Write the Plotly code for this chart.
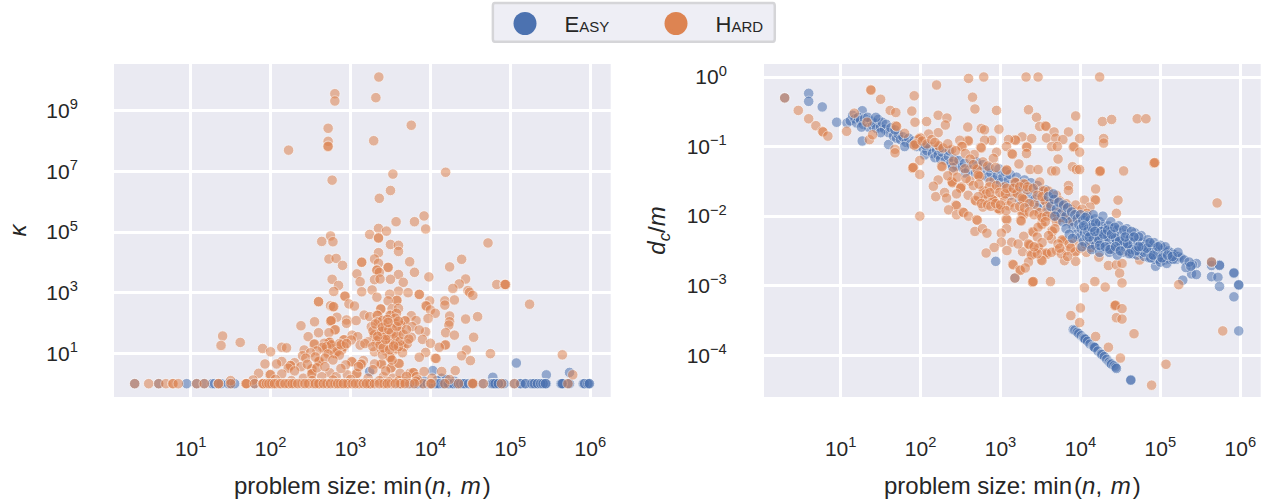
import plotly.graph_objects as go

# log10 values
easy_label = "Easy"
hard_label = "Hard"
x_tick_exp = [1, 2, 3, 4, 5, 6]
kappa_tick_exp = [1, 3, 5, 7, 9]
dc_tick_exp = [-4, -3, -2, -1, 0]

hard_kappa = [
(3.354,10.11),(2.804,9.56),(2.804,9.32),(3.317,9.43),(2.72,8.42),(3.76,8.52),(3.29,8.01),(2.225,7.70),(2.72,7.99),(2.717,7.81),(2.72,7.83),
(4.19,6.97),(3.53,6.91),(2.77,6.71),(3.50,6.37),(3.36,6.11),(3.92,5.53),(3.57,5.34),(3.80,5.34),(3.94,5.10),(3.35,5.12),(3.45,5.03),(3.24,4.92),
(3.35,4.81),(3.35,4.80),(2.75,4.87),(2.64,4.69),(2.78,4.68),(4.72,4.64),(3.50,4.59),(3.60,4.56),(3.60,4.36),(3.35,4.32),(3.30,4.11),(2.73,4.11),
(2.82,4.13),(4.39,4.10),(3.14,4.01),(3.14,4.00),(3.35,3.97),(3.74,4.02),(2.90,3.90),(3.47,3.84),(3.47,3.83),(4.24,3.85),(3.33,3.75),(3.33,3.74),
(3.36,3.67),(3.80,3.67),(3.08,3.62),(3.60,3.60),(3.98,3.52),(2.77,3.44),(3.12,3.36),(3.30,3.43),(3.37,3.45),(3.50,3.44),(3.66,3.34),(4.44,3.45),
(4.36,3.29),(4.83,3.27),(4.93,3.27),(4.93,3.27),(4.94,3.27),(2.85,3.24),(2.79,3.04),(3.14,3.03),(3.27,3.09),(3.60,3.05),(3.72,3.00),(3.49,2.95),
(4.28,3.14),(4.47,3.07),(4.49,3.01),(4.53,2.91),(3.86,2.95),(3.86,2.94),(2.93,2.89),(2.93,2.88),(3.33,2.85),(3.58,2.74),(3.58,2.75),(2.60,2.71),
(2.60,2.70),(3.47,2.73),(3.99,2.73),(4.18,2.73),(4.30,2.76),(4.18,2.59),(2.98,2.63),(3.05,2.56),(2.75,2.57),(2.78,2.53),(2.79,2.54),(3.94,2.57),
(3.95,2.56),(3.375,2.47),(3.38,2.46),(3.52,2.47),(3.60,2.48),(4.00,2.43),(4.06,2.32),(3.17,2.26),(3.24,2.21),(3.33,2.26),(3.34,2.25),(3.49,2.26),
(3.50,2.25),(3.575,2.32),(3.76,2.24),(3.97,2.15),(4.24,2.23),(4.59,2.21),(4.44,2.13),(2.83,2.19),(2.75,2.07),(2.75,2.06),(2.76,2.08),(2.95,2.10),
(2.95,1.99),(3.07,2.08),(2.55,2.04),(2.38,1.91),(4.24,2.04),(4.23,1.93),(3.82,2.08),(3.69,2.08),(3.68,2.07),(3.55,1.99),(3.56,2.00),(3.34,2.04),
(3.35,2.03),(3.26,1.88),(3.77,1.88),(3.43,1.93),(3.63,1.93),(2.80,1.77),(2.81,1.78),(2.73,1.68),(2.60,1.68),(3.02,1.60),(3.94,1.71),(3.86,1.77),
(4.19,1.68),(4.30,1.60),(4.54,1.53),(2.47,1.55),(2.91,1.44),(2.92,1.45),(3.09,1.55),(3.29,1.60),(3.30,1.61),(3.41,1.66),(3.42,1.65),(3.575,1.66),
(3.76,1.53),(3.59,1.44),(3.47,1.53),(3.90,1.46),(3.22,1.38),(3.12,1.27),(3.01,1.44),(2.73,1.36),(2.73,1.35),(2.74,1.37),(2.67,1.33),(2.54,1.30),
(2.55,1.31),(2.91,1.22),(2.92,1.23),(3.63,1.27),(3.64,1.26),(3.47,1.24),(3.48,1.25),(3.32,1.33),(3.67,1.22),(4.00,1.33),(4.18,1.27),(4.19,1.28),
(4.11,1.20),(2.14,1.20),(2.20,1.18),(1.90,1.16),(2.00,1.05),(2.42,1.11),(3.30,1.05),(2.70,1.05),(2.80,1.00),(2.80,1.01),(2.81,0.99),(2.89,1.11),
(3.38,1.16),(3.55,1.11),(4.45,1.11),(2.40,0.92),(4.39,0.92),(4.75,0.99),(5.65,0.95),(3.94,1.03),(3.86,0.87),(4.06,0.84),(4.07,0.83),(3.49,0.87),
(3.49,0.88),(3.50,0.86),(4.50,0.76),(2.60,0.73),(2.60,0.72),(2.61,0.74),(3.16,0.76),(3.01,0.73),(3.02,0.72),(2.14,0.73),(2.075,0.65),(2.30,0.69),
(2.246,0.59),(2.25,0.60),(2.22,0.51),(2.38,0.56),(1.93,0.65),(2.94,0.62),(3.14,0.65),(3.13,0.64),(3.38,0.64),(3.39,0.65),(3.30,0.65),(3.50,0.51),
(3.51,0.52),(3.60,0.67),(3.61,0.66),(2.51,0.48),(2.52,0.49),(1.85,0.34),(1.99,0.29),(2.00,0.30),(2.41,0.18),(2.51,0.32),(2.52,0.33),(2.74,0.36),
(2.64,0.23),(2.82,0.23),(2.96,0.29),(3.075,0.34),(3.08,0.33),(3.41,0.23),(3.74,0.34),(3.78,0.37),(3.79,0.36),(3.825,0.23),(3.92,0.40),(4.14,0.40),
(4.31,0.43),(3.53,0.18),(3.60,0.09),(3.61,0.10),(3.68,0.07),(1.50,0.10),(4.53,0.03),(5.78,0.29),(1.40,1.57),(1.38,1.26),(1.62,1.36),(5.24,2.62),
(3.42,1.42),(3.55,1.52),(3.38,1.78),(3.44,1.86),(3.62,1.72),(3.52,1.82),(3.28,1.74),(3.46,1.34),(3.53,1.38),(3.36,1.48),(3.58,1.15),(3.44,1.08),
(3.40,0.95),(2.84,1.22),(2.78,1.15),(2.68,1.12),(2.86,1.32),(3.18,1.32),(3.40,2.08),(3.56,2.16),(3.46,2.12),(3.71,1.32),(3.65,1.02),(3.52,0.78),
(3.31,1.97),(3.39,1.72),(3.45,1.59),(3.51,1.67),(3.57,1.58),(3.33,1.41),(3.28,1.22),(3.37,1.29),(3.41,1.18),(3.49,1.12),(3.56,1.31),(3.60,1.22),
(3.62,1.40),(3.54,1.24),(3.44,1.46),(3.34,1.56),(3.40,1.86),(3.48,1.78),(3.58,1.88),(3.66,1.62),(3.70,1.78),(3.73,1.47),(3.47,2.02),(3.60,2.06),
(2.70,1.22),(2.76,1.28),(2.83,1.06),(2.88,1.28),(2.95,1.32),(2.65,1.20),(2.72,0.98),(2.86,0.94),(2.58,1.08),(2.50,1.02),(2.44,0.84),(2.56,0.88),
(2.68,0.84),(2.78,0.78),(2.46,0.64),(2.58,0.52),(2.30,0.42),(2.14,0.32),(2.68,0.56),(2.88,0.50),(3.10,0.56),(3.28,0.46),(3.44,0.42),(3.62,0.34),
(3.70,0.24),(3.84,0.12),(3.22,0.18),(3.00,0.14),(2.78,0.12),(2.52,0.10),(2.26,0.10),(2.06,0.14),(1.78,0.12),(3.36,0.10),(3.48,0.06),(3.82,0.08),
(4.02,0.18),(4.24,0.14),
]
hard_kappa_one_x = [
0.30,0.475,0.60,0.69,0.775,0.78,0.845,1.075,1.17,1.345,1.35,1.50,1.69,1.69,1.70,1.80,1.90,1.90,1.91,1.95,2.01,2.02,2.075,2.14,2.22,2.22,2.23,
2.30,2.39,2.47,2.48,2.53,2.60,2.60,2.61,2.70,2.71,2.80,2.81,2.87,2.88,2.95,2.95,2.97,3.10,3.11,3.24,3.24,3.25,3.41,3.42,3.51,3.62,3.63,3.74,
3.91,4.00,4.01,4.18,4.35,4.525,4.53,4.66,4.89,5.05,5.72,
1.98,2.05,2.12,2.18,2.27,2.34,2.43,2.56,2.66,2.75,2.84,2.91,3.02,3.06,3.16,3.20,3.30,3.36,3.46,3.56,3.68,3.80,
]
easy_kappa = [(3.24,0.40),(4.03,0.43),(4.78,0.21),(5.075,0.68),(5.45,0.29),(5.74,0.37),(4.14,0.18),(4.20,0.14),(3.85,0.06),(3.92,0.09),(4.08,0.10),(4.30,0.08)]
easy_kappa_one_x = [
0.30,0.60,0.95,1.075,1.17,1.27,1.30,1.345,1.38,1.47,1.51,1.55,1.80,3.24,3.60,3.72,3.78,3.84,3.90,3.96,4.00,4.03,4.08,4.12,4.18,4.24,4.30,4.35,
4.40,4.44,4.51,4.66,4.76,4.78,4.80,4.83,4.89,4.92,5.05,5.12,5.18,5.25,5.29,5.32,5.36,5.40,5.43,5.45,5.63,5.66,5.72,5.74,5.91,5.95,5.98,
4.02,4.06,4.10,4.16,4.22,4.28,4.33,4.38,4.42,4.48,4.54,4.77,4.79,4.81,4.85,5.13,5.19,5.27,5.30,5.34,5.38,5.41,5.44,5.64,5.65,5.92,5.93,5.97,5.99,
]

hard_dc = [
(2.60,-0.02),(2.79,0.00),(3.32,0.00),(3.47,0.00),(4.24,0.00),(2.20,-0.115),(1.375,-0.18),(1.38,-0.19),(1.92,-0.27),(1.50,-0.32),(2.65,-0.29),(0.30,-0.30),
(0.47,-0.48),(0.60,-0.60),(0.69,-0.70),(0.77,-0.78),(0.78,-0.79),(0.84,-0.85),(1.075,-0.78),(1.17,-0.52),(1.33,-0.65),(1.36,-0.90),(1.40,-0.83),(1.62,-0.48),
(1.69,-0.51),(1.89,-0.49),(1.93,-0.65),(1.69,-0.70),(1.70,-0.71),(2.075,-0.64),(2.22,-0.55),(2.33,-0.59),(2.31,-0.69),(2.22,-0.80),(2.10,-0.82),(1.80,-0.81),
(2.68,-0.46),(2.95,-0.48),(3.35,-0.47),(3.45,-0.58),(3.94,-0.56),(4.275,-0.64),(4.39,-0.61),(4.71,-0.60),(4.82,-0.60),(2.59,-0.72),(2.76,-0.74),(2.80,-0.76),
(2.98,-0.75),(3.49,-0.71),(3.56,-0.70),(3.57,-0.71),(3.67,-0.79),(3.85,-0.79),(3.27,-0.86),(3.39,-0.885),(3.18,-0.90),(3.19,-0.91),(3.10,-0.90),(3.575,-0.875),
(3.69,-0.88),(3.78,-0.90),(3.99,-0.885),(4.29,-0.885),(4.29,-0.95),(2.89,-0.91),(2.80,-0.91),(2.59,-0.91),(2.60,-0.92),(2.49,-0.91),(1.99,-0.87),(2.00,-0.88),
(1.98,-0.89),(1.93,-0.97),(1.94,-0.96),(1.92,-0.98),(2.22,-0.98),(2.23,-0.99),(2.51,-0.995),(2.52,-1.0),(2.75,-1.01),(2.76,-1.02),(3.075,-1.0),(3.325,-1.0),
(3.33,-1.01),(3.64,-1.0),(3.71,-1.0),(3.91,-1.01),(3.92,-1.0),(3.99,-1.08),(1.68,-1.04),(1.68,-1.09),(2.39,-1.04),(2.95,-1.08),(3.14,-1.10),(3.15,-1.11),
(3.325,-1.10),(2.67,-1.115),(2.91,-1.17),(3.72,-1.18),(2.41,-1.21),(1.99,-1.20),(2.26,-1.28),(2.27,-1.29),(3.23,-1.25),(1.90,-1.30),(1.90,-1.31),(1.91,-1.30),
(3.37,-1.33),(3.47,-1.33),(3.075,-1.33),(3.08,-1.34),(3.64,-1.35),(3.69,-1.35),(3.90,-1.29),(3.95,-1.33),(3.99,-1.33),(4.24,-1.35),(4.24,-1.36),(4.25,-1.35),
(4.54,-1.35),(4.92,-1.23),(4.92,-1.24),(4.93,-1.23),(1.99,-1.40),(2.70,-1.32),(2.71,-1.33),(2.555,-1.32),(2.41,-1.35),(2.73,-1.42),(2.74,-1.43),(2.72,-1.41),
(2.39,-1.51),(2.39,-1.50),(2.40,-1.52),(2.22,-1.48),(2.16,-1.57),(2.50,-1.59),(2.51,-1.58),(2.50,-1.60),(2.62,-1.495),(2.87,-1.51),(3.05,-1.58),(3.18,-1.51),
(3.19,-1.52),(3.29,-1.53),(3.30,-1.54),(3.49,-1.51),(3.53,-1.63),(3.54,-1.64),(3.85,-1.56),(3.85,-1.63),(4.19,-1.61),(2.19,-1.72),(2.30,-1.66),(2.325,-1.74),
(2.45,-1.68),(2.595,-1.70),(2.78,-1.63),(2.79,-1.64),(2.93,-1.61),(3.12,-1.65),(3.13,-1.66),(3.20,-1.68),(3.21,-1.67),(2.68,-1.77),(2.69,-1.78),(2.80,-1.77),
(2.81,-1.76),(2.91,-1.77),(2.92,-1.78),(2.90,-1.76),(3.03,-1.70),(3.55,-1.77),(3.56,-1.78),(3.66,-1.75),(3.28,-1.75),(3.29,-1.76),(3.27,-1.74),(4.05,-1.77),
(4.18,-1.76),(4.19,-1.77),(4.47,-1.77),(2.44,-1.84),(2.45,-1.85),(2.35,-1.91),(2.45,-1.98),(2.53,-1.94),(2.54,-1.95),(2.60,-2.0),(2.78,-1.87),(2.98,-1.90),
(2.99,-1.91),(2.97,-1.89),(3.28,-1.97),(3.29,-1.98),(3.27,-1.96),(3.47,-1.94),(3.48,-1.95),(3.64,-2.01),(3.65,-2.0),(3.76,-1.87),(3.77,-1.88),(3.97,-1.93),
(4.12,-1.87),(4.45,-1.96),(5.71,-1.81),(1.99,-2.0),(2.70,-2.05),(2.71,-2.06),(3.07,-2.04),(3.08,-2.05),(3.25,-2.06),(3.26,-2.07),(3.51,-2.11),(3.52,-2.12),
(3.72,-2.04),(3.83,-2.06),(3.51,-2.0),(3.075,-2.18),(3.01,-2.245),(2.68,-2.22),(2.775,-2.18),(2.83,-2.245),(3.40,-2.22),(3.41,-2.23),(3.29,-2.29),(3.64,-2.21),
(3.65,-2.22),(3.64,-2.33),(3.78,-2.35),(3.79,-2.36),(3.77,-2.34),(3.01,-2.375),(3.14,-2.375),(2.92,-2.45),(3.08,-2.495),(2.82,-2.53),(3.275,-2.51),(3.36,-2.41),
(3.37,-2.42),(3.35,-2.40),(3.47,-2.45),(3.48,-2.46),(3.43,-2.52),(3.575,-2.54),(3.58,-2.55),(3.57,-2.53),(3.70,-2.49),(3.825,-2.495),(3.93,-2.52),(3.94,-2.51),
(4.075,-2.52),(3.93,-2.36),(4.18,-2.35),(4.14,-2.45),(4.39,-2.46),(4.40,-2.47),(4.58,-2.505),(3.51,-2.63),(3.52,-2.64),(3.38,-2.55),(3.39,-2.56),(3.35,-2.66),
(3.80,-2.64),(3.94,-2.65),(4.23,-2.59),(4.74,-2.63),(3.15,-2.69),(3.16,-2.70),(3.24,-2.77),(3.25,-2.78),(3.31,-2.745),(3.18,-2.89),(3.40,-2.94),(3.40,-2.95),
(3.41,-2.94),(3.625,-2.94),(4.35,-2.71),(4.45,-2.70),(4.52,-2.68),(4.49,-2.82),(4.18,-2.94),(4.52,-2.96),(4.31,-3.02),(4.05,-3.03),(5.23,-2.985),(5.64,-2.66),
(4.00,-3.32),(4.43,-3.28),(4.43,-3.29),(4.44,-3.28),(4.52,-3.33),(3.88,-3.43),(3.99,-3.53),(4.45,-3.46),(4.52,-3.48),(4.19,-3.73),(4.67,-3.69),(5.78,-3.65),
(4.35,-3.885),(4.50,-4.04),(5.07,-4.13),(4.89,-4.43),(3.05,-1.78),(3.10,-1.85),(3.42,-1.83),(3.58,-1.90),(3.33,-1.62),(3.36,-1.82),(2.86,-1.58),(3.68,-1.95),
(2.02,-0.92),(2.08,-0.96),(2.14,-0.90),(2.18,-0.94),(2.28,-1.02),(2.34,-0.96),(2.44,-1.06),(2.56,-1.10),(2.62,-1.18),(2.66,-1.26),(2.78,-1.22),(2.84,-1.28),
(2.94,-1.30),(2.34,-1.42),(2.46,-1.44),(2.57,-1.46),(2.66,-1.56),(2.73,-1.54),(2.82,-1.68),(2.87,-1.66),(2.95,-1.56),(2.99,-1.66),(3.06,-1.68),(3.08,-1.60),
(3.16,-1.60),(3.24,-1.58),(3.34,-1.58),(3.41,-1.60),(3.46,-1.70),(3.52,-1.72),(3.60,-1.64),(3.62,-1.82),(3.70,-1.70),(3.74,-1.78),(3.82,-1.82),(3.88,-1.90),
(3.94,-1.84),(4.02,-1.90),(4.08,-1.96),(2.72,-1.72),(2.76,-1.82),(2.84,-1.84),(2.88,-1.86),(2.94,-1.82),(3.00,-1.84),(3.07,-1.92),(3.14,-1.80),(3.18,-1.88),
(3.24,-1.86),(3.30,-1.88),(3.36,-1.94),(3.42,-1.98),(3.52,-2.02),(3.58,-2.00),(3.70,-2.08),(3.76,-2.02),(3.82,-1.98),(3.88,-2.08),(3.96,-2.02),
(3.47,-2.16),(3.56,-2.08),(3.68,-2.18),(3.60,-2.28),(3.46,-2.30),(3.52,-2.38),(3.72,-2.40),(3.86,-2.40),(3.88,-2.46),(3.46,-2.54),(3.42,-2.44),(3.64,-2.52),
(3.76,-2.54),(3.84,-2.58),(3.74,-2.46),(4.00,-2.46),(4.06,-2.40),(3.22,-2.40),
]
easy_dc = [
(0.30,-0.30),(0.60,-0.235),(0.60,-0.35),(0.77,-0.43),(0.95,-0.65),(1.27,-0.485),(1.27,-0.92),(1.60,-0.97),(2.94,-2.65),(4.94,-2.72),(5.28,-2.92),(5.64,-2.71),
(5.64,-2.87),(5.72,-2.88),(5.74,-2.70),(5.74,-2.71),(5.74,-3.01),(5.92,-2.81),(5.92,-2.82),(5.98,-2.985),(5.98,-2.99),(5.92,-3.16),(5.98,-3.65),(5.39,-2.83),
(5.45,-2.84),(5.45,-2.68),(5.40,-2.70),(3.18,-2.89),(5.64,-2.66),
(1.08,-0.66),(1.12,-0.63),(1.15,-0.55),(1.18,-0.60),(1.2,-0.66),(1.22,-0.58),(1.25,-0.62),(1.28,-0.68),(1.3,-0.60),(1.33,-0.66),(1.35,-0.72),(1.38,-0.63),
(1.4,-0.70),(1.42,-0.66),(1.45,-0.74),(1.47,-0.61),(1.5,-0.72),(1.52,-0.65),(1.55,-0.75),(1.57,-0.68),(1.6,-0.80),(1.63,-0.73),(1.66,-0.85),(1.7,-0.88),
(1.72,-0.82),(1.75,-0.90),(1.78,-0.86),(1.82,-0.94),(1.85,-0.88),(1.88,-0.96),(1.92,-0.92),(1.95,-1.0),(2.0,-0.95),(2.03,-1.02),(2.05,-1.12),(2.08,-1.06),
(2.12,-1.0),(2.15,-1.1),(2.18,-1.16),(2.2,-1.05),(2.22,-1.12),(2.25,-1.18),(2.27,-1.08),(2.31,-1.2),(2.35,-1.14),(2.38,-1.24),(2.42,-1.18),(2.45,-1.28),
(2.48,-1.2),(2.52,-1.3),(2.55,-1.24),(2.6,-1.34),(2.64,-1.26),(2.68,-1.38),(2.72,-1.3),(2.76,-1.42),(2.8,-1.34),(2.84,-1.44),(2.88,-1.38),(2.92,-1.48),
(3.91,-3.63),(3.93,-3.64),(3.96,-3.67),(3.98,-3.69),(4.01,-3.72),(4.04,-3.75),(4.05,-3.76),(4.06,-3.77),(4.09,-3.8),(4.12,-3.84),(4.16,-3.87),(4.17,-3.88),
(4.18,-3.89),(4.22,-3.94),(4.26,-3.98),(4.27,-3.99),(4.3,-4.02),(4.33,-4.06),(4.36,-4.1),(4.38,-4.12),(4.39,-4.13),(4.42,-4.15),(4.44,-4.17),(4.45,-4.19),
(4.63,-4.35),(4.63,-4.36),
(1.26,-0.72),(1.34,-0.58),(1.44,-0.58),(1.50,-0.80),(1.68,-0.76),(1.80,-1.0),(2.06,-0.98),(2.24,-1.02),(2.36,-1.06),(2.40,-1.30),(2.56,-1.38),(2.70,-1.22),
(2.78,-1.26),(2.86,-1.30),
(2.96,-1.42),(3.0,-1.52),(3.03,-1.44),(3.07,-1.56),(3.1,-1.48),(3.14,-1.6),(3.18,-1.52),(3.22,-1.64),(3.25,-1.56),(3.29,-1.68),(3.32,-1.58),(3.36,-1.72),
(3.4,-1.62),(3.43,-1.76),(3.47,-1.66),(3.5,-1.82),(3.54,-1.68),(3.57,-1.8),(2.98,-1.32),(3.06,-1.36),(3.12,-1.40),(3.2,-1.44),(3.3,-1.48),(3.38,-1.52),
(3.46,-1.56),(3.56,-1.62),(3.12,-1.70),(3.24,-1.76),(3.34,-1.82),(3.46,-1.88),(3.58,-1.94),
]
# blue points that lie on top of the orange ones in the picture
easy_dc_over = [
(3.6,-1.72),(3.63,-1.86),(3.67,-1.76),(3.7,-1.9),(3.73,-1.8),(3.76,-1.96),
(3.79,-1.84),(3.82,-2.0),(3.84,-1.88),(3.87,-2.08),(3.89,-1.94),(3.91,-2.16),(3.93,-1.98),(3.95,-2.26),(3.96,-2.04),(3.98,-2.12),(4.0,-1.98),(4.0,-2.3),
(4.01,-2.18),(4.03,-2.06),(4.04,-2.36),(4.05,-2.24),(4.07,-2.12),(4.08,-2.0),(4.08,-2.3),(4.1,-2.18),(4.11,-2.4),(4.12,-2.06),(4.13,-2.26),(4.15,-2.12),
(4.16,-2.34),(4.17,-2.2),(4.18,-2.04),(4.19,-2.42),(4.2,-2.28),(4.21,-2.14),(4.23,-2.36),(4.24,-2.08),(4.25,-2.22),(4.26,-2.44),(4.27,-2.3),(4.28,-2.12),
(4.3,-2.38),(4.31,-2.18),(4.32,-2.26),(4.33,-2.46),(4.35,-2.14),(4.36,-2.34),(4.37,-2.22),(4.38,-2.42),(4.4,-2.18),(4.41,-2.3),(4.42,-2.48),(4.43,-2.26),
(4.45,-2.38),(4.46,-2.2),(4.47,-2.46),(4.48,-2.3),(4.5,-2.24),(4.51,-2.42),(4.52,-2.34),(4.53,-2.52),(4.55,-2.28),(4.56,-2.44),(4.57,-2.36),(4.58,-2.26),
(4.6,-2.5),(4.61,-2.34),(4.62,-2.42),(4.63,-2.3),(4.65,-2.54),(4.66,-2.38),(4.67,-2.46),(4.68,-2.33),(4.7,-2.42),(4.71,-2.56),(4.72,-2.36),(4.74,-2.48),
(4.75,-2.4),(4.76,-2.53),(4.78,-2.38),(4.79,-2.44),(4.8,-2.58),(4.81,-2.48),(4.82,-2.4),(4.84,-2.52),(4.85,-2.44),(4.86,-2.6),(4.88,-2.46),(4.89,-2.55),
(4.9,-2.42),(4.92,-2.5),(4.93,-2.62),(4.95,-2.46),(4.96,-2.55),(4.98,-2.62),(4.99,-2.48),(5.01,-2.55),(5.03,-2.47),(5.05,-2.63),(5.07,-2.52),(5.1,-2.5),
(5.12,-2.62),(5.14,-2.53),(5.17,-2.55),(5.2,-2.62),(5.23,-2.58),(5.26,-2.6),(5.3,-2.63),(5.32,-2.74),(5.36,-2.66),(5.38,-2.72),
(3.66,-1.68),(3.68,-2.0),(3.78,-2.08),(3.82,-2.18),(3.86,-2.26),(3.90,-2.32),(4.02,-2.44),(4.14,-2.48),(4.24,-2.52),
(4.36,-2.52),(4.46,-2.56),(4.28,-2.0),(4.38,-2.08),(4.48,-2.14),(4.58,-2.18),(4.68,-2.24),(4.76,-2.28),(4.84,-2.34),(4.92,-2.38),(5.0,-2.42),(5.06,-2.44),
(4.16,-1.98),(4.26,-2.22),(4.34,-2.3),(4.44,-2.32),(4.54,-2.4),(4.64,-2.48),(4.72,-2.5),(4.8,-2.52),(4.88,-2.6),(5.0,-2.66),(5.08,-2.68),(5.16,-2.62),
(4.06,-2.02),(4.09,-2.22),(4.14,-2.16),(4.19,-2.1),(4.22,-2.32),(4.29,-2.26),(4.34,-2.2),(4.39,-2.26),(4.43,-2.16),(4.49,-2.36),(4.54,-2.2),(4.59,-2.4),
(4.64,-2.22),(4.69,-2.5),(4.73,-2.3),(4.77,-2.44),(4.83,-2.46),(4.87,-2.38),(4.91,-2.56),(4.97,-2.44),(5.02,-2.6),(5.09,-2.56),(5.15,-2.58),(5.22,-2.52),
(4.04,-2.14),(4.11,-2.3),(4.18,-2.22),(4.24,-2.42),(4.31,-2.44),(4.37,-2.48),(4.44,-2.44),(4.5,-2.5),(4.56,-2.3),(4.61,-2.54),(4.67,-2.3),(4.73,-2.44),
]

BLUE = "#4c72b0"
ORANGE = "#dd8452"
PANEL = "#eaeaf2"
TEXT = "#262626"
FONT = "Liberation Sans"
W, H = 1267, 503


def power(exps):
    return [10.0 ** e for e in exps]


def xs(points):
    return power([p[0] for p in points])


def ys(points):
    return power([p[1] for p in points])


def scatter(x, y, color, xaxis, yaxis):
    return go.Scatter(
        x=x, y=y, mode="markers", xaxis=xaxis, yaxis=yaxis, showlegend=False, hoverinfo="skip",
        marker=dict(size=10.5, color=color, opacity=0.55, line=dict(color="white", width=0.8)),
    )


fig = go.Figure()
fig.add_trace(scatter(xs(easy_kappa) + power(easy_kappa_one_x), ys(easy_kappa) + [1.0] * len(easy_kappa_one_x), BLUE, "x", "y"))
fig.add_trace(scatter(xs(hard_kappa) + power(hard_kappa_one_x), ys(hard_kappa) + [1.0] * len(hard_kappa_one_x), ORANGE, "x", "y"))
fig.add_trace(scatter(xs(easy_dc), ys(easy_dc), BLUE, "x2", "y2"))
fig.add_trace(scatter(xs(hard_dc), ys(hard_dc), ORANGE, "x2", "y2"))
fig.add_trace(scatter(xs(easy_dc_over), ys(easy_dc_over), BLUE, "x2", "y2"))
for name, color in ((easy_label, BLUE), (hard_label, ORANGE)):
    fig.add_trace(go.Scatter(x=[None], y=[None], mode="markers", name=name, xaxis="x", yaxis="y",
                             marker=dict(size=16, color=color, line=dict(width=0))))


def sup(exps):
    return [f"10<sup>{str(e).replace('-', '−')}</sup>" for e in exps]


axis_common = dict(
    type="log", showgrid=True, gridcolor="white", gridwidth=3, zeroline=False, showline=False,
    ticks="outside", tickcolor="rgba(0,0,0,0)", tickfont=dict(family=FONT, size=21, color=TEXT),
    title_font=dict(family=FONT, size=24, color=TEXT), layer="below traces", automargin=False,
)
x_title = "problem size: min\u200a(<i>n</i>,\u200a <i>m</i>\u200a)"
dom_y = [1 - 397 / H, 1 - 64 / H]


def disc(cx, color):
    r = 11.5
    return dict(type="circle", xref="paper", yref="paper", layer="below", x0=(cx - r) / W, x1=(cx + r) / W,
                y0=1 - (23.5 + r) / H, y1=1 - (23.5 - r) / H, fillcolor=color, line=dict(width=0))


fig.update_layout(
    width=W, height=H, margin=dict(l=0, r=0, t=0, b=0), autosize=False,
    paper_bgcolor="white", plot_bgcolor=PANEL, font=dict(family=FONT, color=TEXT),
    xaxis=dict(axis_common, domain=[114 / W, 610.7 / W], range=[0.041, 6.255], ticklen=33, tickvals=power(x_tick_exp), ticktext=sup(x_tick_exp), title_text=x_title, title_standoff=17, anchor="y"),
    yaxis=dict(axis_common, domain=dom_y, range=[-0.44, 10.54], ticklen=31, tickvals=power(kappa_tick_exp), ticktext=sup(kappa_tick_exp), title_text="<i>κ</i>", title_standoff=12, anchor="x"),
    xaxis2=dict(axis_common, domain=[764 / W, 1260.7 / W], range=[0.041, 6.255], ticklen=33, tickvals=power(x_tick_exp), ticktext=sup(x_tick_exp), title_text=x_title, title_standoff=17, anchor="y2"),
    yaxis2=dict(axis_common, domain=dom_y, range=[-4.6, 0.187], ticklen=32, tickvals=power(dc_tick_exp), ticktext=sup(dc_tick_exp), title_text="<i>d<sub>c</sub></i>/<i>m</i>", title_standoff=14, anchor="x2"),
    legend=dict(orientation="h", x=486.5 / W, xanchor="left", y=1 - 23.5 / H, yanchor="middle", bgcolor="rgba(0,0,0,0)",
                borderwidth=0, itemwidth=68, entrywidth=68, entrywidthmode="pixels", itemsizing="trace",
                font=dict(family=FONT, size=22, color=TEXT, variant="small-caps")),
    shapes=[
        dict(type="path", xref="paper", yref="paper", layer="below",
             path=("M 0.3905 0.9940 L 0.6100 0.9940 Q 0.6115 0.9940 0.6115 0.9880 L 0.6115 0.9230 "
                   "Q 0.6115 0.9170 0.6100 0.9170 L 0.3905 0.9170 Q 0.3890 0.9170 0.3890 0.9230 "
                   "L 0.3890 0.9880 Q 0.3890 0.9940 0.3905 0.9940 Z"),
             fillcolor="#eeeef5", line=dict(color="#d5d5d8", width=2.5)),
        disc(525, BLUE), disc(676, ORANGE),
    ],
)
fig.write_html("out.html", config=dict(displayModeBar=False),
               post_script="document.body.style.margin='0';document.body.style.overflow='hidden';")
